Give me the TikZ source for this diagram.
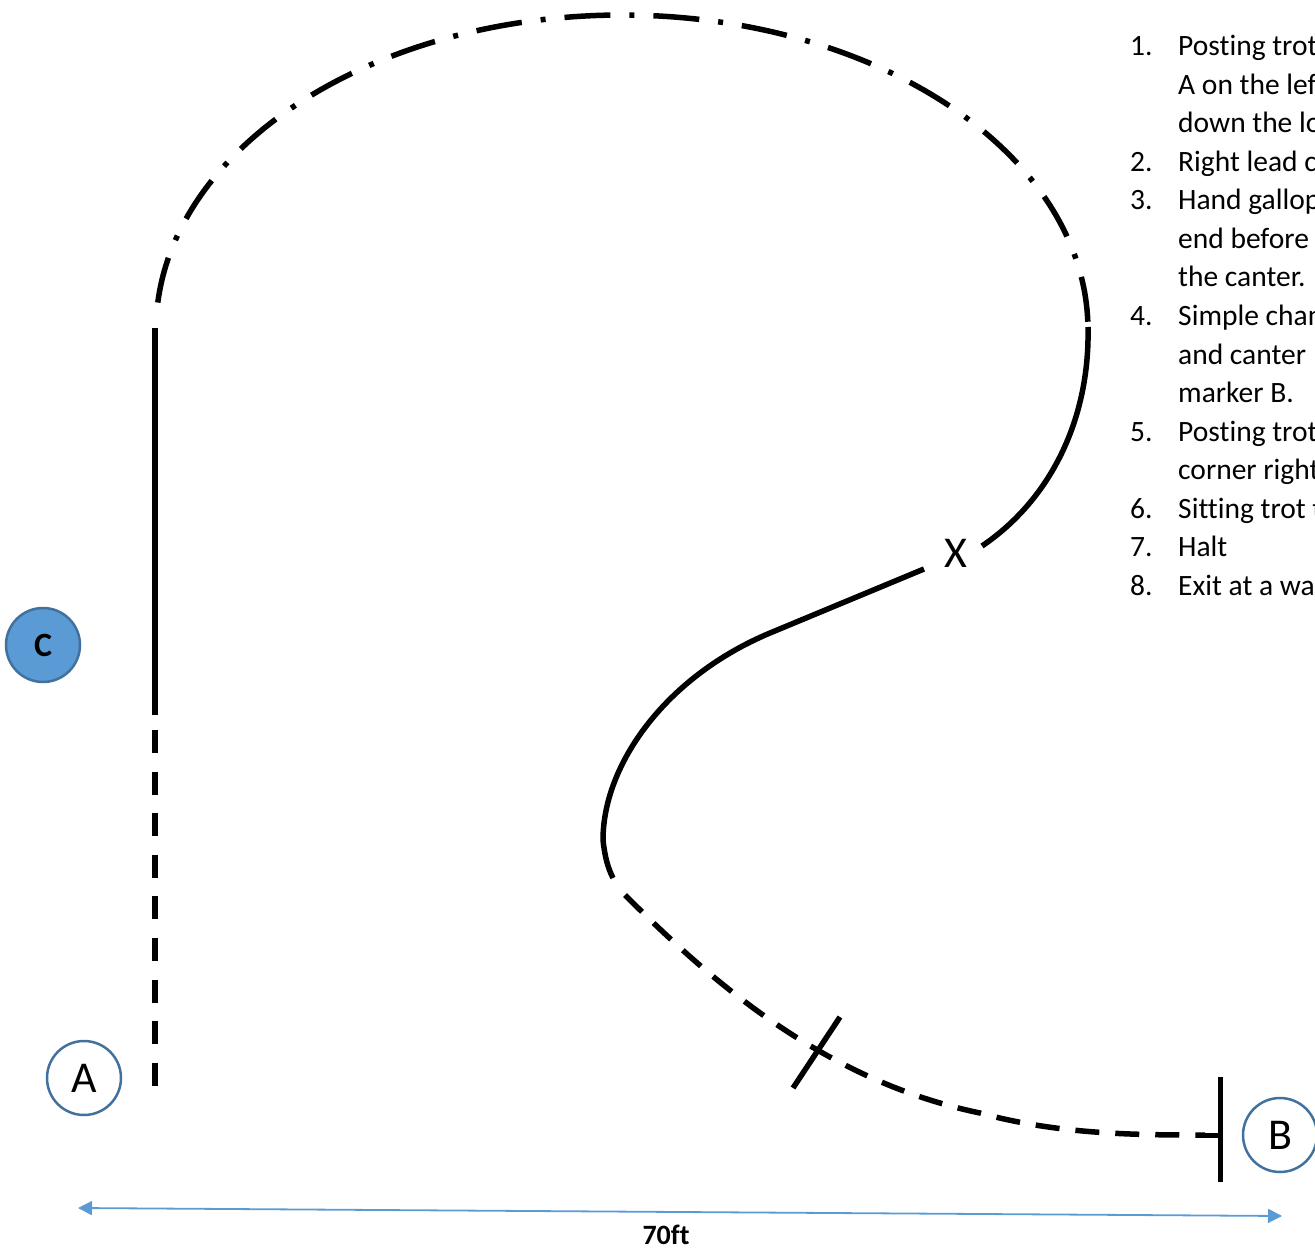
\documentclass[tikz,border=0pt]{standalone}
\usepackage{fontspec}
\setmainfont{Carlito}[Ligatures=NoCommon]
\usetikzlibrary{arrows.meta}
\definecolor{mblue}{HTML}{5B9BD5}
\definecolor{mborder}{HTML}{41719C}
\begin{document}
\begin{tikzpicture}[x=1pt,y=-1pt,
  trail/.style={line width=5.5pt,black},
  dashdot/.style={trail,dash pattern=on 46pt off 19pt on 5pt off 19pt},
  vdashed/.style={trail,dash pattern=on 23pt off 18.6pt},
  cdashed/.style={trail,dash pattern=on 24pt off 16pt},
  marker/.style={circle,draw=mborder,line width=2.5pt,minimum size=74pt,inner sep=0pt,font=\fontsize{44}{44}\selectfont},
  numlbl/.style={anchor=base west,inner sep=0pt,font=\fontsize{29.5}{31}\selectfont},
  itemtxt/.style={anchor=base west,inner sep=0pt,font=\fontsize{29.5}{31}\selectfont},
  dim/.style={mblue,line width=1.8pt,{Triangle[length=14pt,width=14pt]}-{Triangle[length=14pt,width=14pt]}}]
\useasboundingbox (0,0) rectangle (1315,1249);
\clip (0,0) rectangle (1315,1249);

% markers
\node[marker,fill=mblue,font=\bfseries\fontsize{34}{34}\selectfont] (C) at (43,645) {C};
\node[marker,fill=white] (A) at (84,1078) {A};
\node[marker,fill=white] (B) at (1280,1135) {B};
\node[inner sep=0pt,font=\fontsize{44}{44}\selectfont] (X) at (956,553) {X};

% left side line
\coordinate (s1) at (155,328);
\coordinate (s2) at (155,715);
\coordinate (d1) at (155,730);
\coordinate (d2) at (155,1087);
\draw[trail] (s1) -- (s2);
\draw[vdashed] (d1) -- (d2);

% dash-dot big arc
\draw[dashdot] plot[domain=175:1.5,samples=160,variable=\t] ({622+466*cos(\t)},{330-315*sin(\t)});

% solid arc down to X
\coordinate (r1) at (1088,327);
\coordinate (r2) at (982,546);
\draw[trail] (r1) .. controls (1090,420) and (1050,500) .. (r2);

% S-curve from X
\coordinate (x1) at (924,569);
\coordinate (x2) at (770,633);
\coordinate (x3) at (603,840);
\coordinate (x4) at (613,878);
\draw[trail] (x1) -- (x2) .. controls (665,677) and (603,765) .. (x3) .. controls (605,858) and (608,868) .. (x4);

% dashed curve to B
\coordinate (c1) at (625,895);
\coordinate (c2) at (980,1113);
\coordinate (c3) at (1205,1135);
\draw[cdashed] (c1) .. controls (705,975) and (820,1080) .. (c2) .. controls (1060,1135) and (1140,1135) .. (c3);

% tick marks
\coordinate (t1) at (793,1088);
\coordinate (t2) at (840,1017);
\draw[trail] (t1) -- (t2);
\coordinate (b1) at (1220,1077);
\coordinate (b2) at (1220,1182);
\coordinate (b3) at (1204,1135);
\coordinate (b4) at (1220,1135);
\draw[trail,line width=5pt] (b1) -- (b2);
\draw[trail,line width=5pt] (b3) -- (b4);

% dimension arrow
\coordinate (L) at (78,1208);
\coordinate (R) at (1282,1216);
\draw[dim] (L) -- (R);
\node[inner sep=0pt,font=\bfseries\fontsize{28}{28}\selectfont] (len) at (666,1235) {70ft};

% list
\node[numlbl] (n1) at (1130,56) {1.};
\node[itemtxt] (l1) at (1178,56) {Posting trot};
\node[itemtxt] (l2) at (1178,94.5) {A on the left};
\node[itemtxt] (l3) at (1178,133) {down the long};
\node[numlbl] (n2) at (1130,171.5) {2.};
\node[itemtxt] (l4) at (1178,171.5) {Right lead canter};
\node[numlbl] (n3) at (1130,210) {3.};
\node[itemtxt] (l5) at (1178,210) {Hand gallop};
\node[itemtxt] (l6) at (1178,248.5) {end before};
\node[itemtxt] (l7) at (1178,287) {the canter.};
\node[numlbl] (n4) at (1130,325.5) {4.};
\node[itemtxt] (l8) at (1178,325.5) {Simple change};
\node[itemtxt] (l9) at (1178,364) {and canter 1};
\node[itemtxt] (l10) at (1178,402.5) {marker B.};
\node[numlbl] (n5) at (1130,441) {5.};
\node[itemtxt] (l11) at (1178,441) {Posting trot};
\node[itemtxt] (l12) at (1178,479.5) {corner right};
\node[numlbl] (n6) at (1130,518) {6.};
\node[itemtxt] (l13) at (1178,518) {Sitting trot to};
\node[numlbl] (n7) at (1130,556.5) {7.};
\node[itemtxt] (l14) at (1178,556.5) {Halt};
\node[numlbl] (n8) at (1130,595) {8.};
\node[itemtxt] (l15) at (1178,595) {Exit at a walk};
\end{tikzpicture}
\end{document}
